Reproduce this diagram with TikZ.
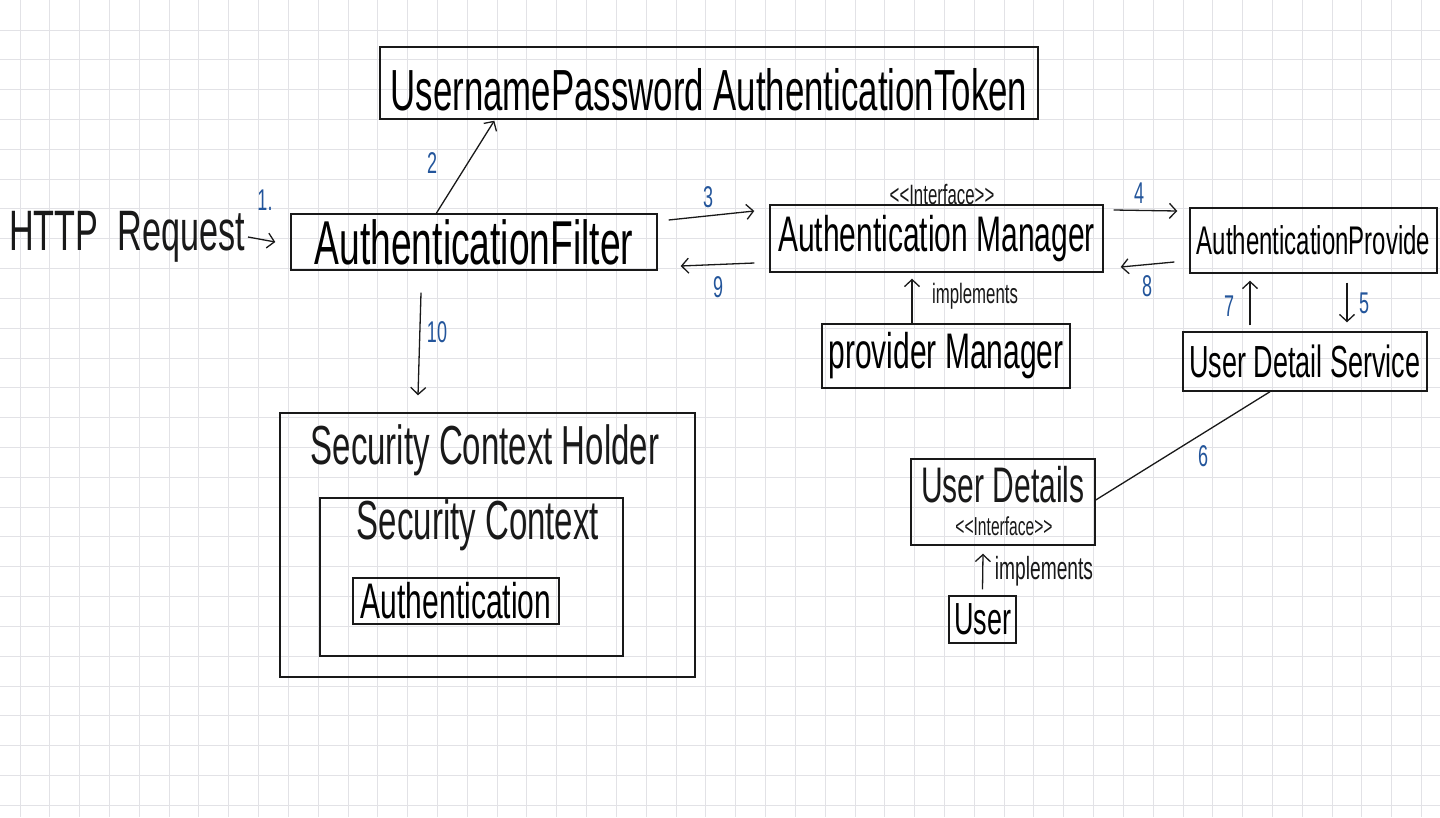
\documentclass[tikz,border=0pt]{standalone}
\usepackage{fontspec}
\setmainfont{Liberation Sans}[FakeStretch=0.6]
\usetikzlibrary{arrows.meta}
\definecolor{numblue}{RGB}{35,85,155}
\definecolor{gridgray}{RGB}{226,226,230}
\definecolor{ink}{RGB}{25,25,25}
\newcommand{\handsize}[1]{\fontsize{#1}{#1}\selectfont}

\begin{document}
\begin{tikzpicture}[x=1pt, y=-1pt,
  main/.style = {draw=ink, line width=1.4pt, inner sep=0pt},
  txt/.style = {inner sep=0pt, text=ink},
  num/.style = {inner sep=0pt, text=numblue, font=\handsize{30}},
  flow/.style = {->, draw=ink, line width=1.3pt},
  >={Straight Barb[length=7pt, width=15pt]}]
  \useasboundingbox (0,0) rectangle (1440,817);
  \fill[white] (0,0) rectangle (1440,817);
  % squared paper
  \foreach \i in {0,...,47}
    \draw[gridgray, line width=0.9pt] ({20+29.82*\i},0) -- ({20+29.82*\i},817);
  \foreach \j in {0,...,26}
    \draw[gridgray, line width=0.9pt] (0,{30+29.82*\j}) -- (1440,{30+29.82*\j});

  % boxes
  \node[main, minimum width=658pt, text height=63pt, text depth=9pt, font=\handsize{58}] (token) at (709,83) {UsernamePassword AuthenticationToken};
  \node[txt, font=\handsize{57}] (request) at (127,237) {HTTP\ \ Request};
  \node[main, minimum width=366pt, minimum height=56pt, font=\handsize{62}] (filter) at (474,242) {AuthenticationFilter};
  \node[main, minimum width=333pt, minimum height=67pt, font=\handsize{50}] (manager) at (936.5,238.5) {Authentication Manager};
  \node[main, minimum width=247pt, minimum height=65pt, font=\handsize{40}] (provider) at (1313.5,240.5) {AuthenticationProvide};
  \node[main, minimum width=248pt, minimum height=64pt, font=\handsize{50}] (pm) at (946,356) {provider Manager};
  \node[main, minimum width=244pt, minimum height=59pt, font=\handsize{45}] (uds) at (1305,361.5) {User Detail Service};
  \node[main, minimum width=415pt, minimum height=264pt] (holder) at (487.5,545) {};
  \node[txt, font=\handsize{55}] (holdername) at (485,450) {Security Context Holder};
  \node[main, minimum width=303pt, minimum height=158pt] (ctx) at (471.5,577) {};
  \node[txt, font=\handsize{55}] (ctxname) at (478,525) {Security Context};
  \node[main, minimum width=206pt, minimum height=46pt, font=\handsize{50}] (auth) at (456,601) {Authentication};
  \node[main, minimum width=184pt, minimum height=86pt] (details) at (1003,502) {};
  \node[txt, font=\handsize{50}] (detailsname) at (1003,485) {User Details};
  \node[txt, font=\handsize{26}] (detailsif) at (1004,526) {<{}<Interface>{}>};
  \node[main, minimum width=67pt, minimum height=47pt, font=\handsize{45}] (user) at (982.5,619.5) {User};
  \node[txt, font=\handsize{28}] (managerif) at (942,195) {<{}<Interface>{}>};

  % connectors
  \draw[flow] ([xshift=3pt]request.east) -- ([xshift=-15pt]filter.west);
  \draw[flow] ([xshift=146pt]filter.north west) -- ([xshift=115pt, yshift=-1pt]token.south west);
  \draw[flow] ([xshift=11pt, yshift=22pt]filter.east) -- ([xshift=-15pt, yshift=27.5pt]manager.west);
  \draw[flow] ([xshift=-15pt, yshift=-24.5pt]manager.west) -- ([xshift=23pt, yshift=-24pt]filter.east);
  \draw[flow] ([xshift=10pt, yshift=28.5pt]manager.east) -- ([xshift=-12pt, yshift=29.5pt]provider.west);
  \draw[flow] ([xshift=-15pt, yshift=-21.5pt]provider.west) -- ([xshift=17pt, yshift=-28.5pt]manager.east);
  \draw[flow] ([xshift=-34pt]pm.north) -- ([xshift=-24.5pt, yshift=-6pt]manager.south);
  \draw[flow] ([xshift=-55pt, yshift=6pt]uds.north) -- ([xshift=-63.5pt, yshift=-7pt]provider.south);
  \draw[flow] ([xshift=33.5pt, yshift=-9pt]provider.south) -- ([xshift=42pt, yshift=9pt]uds.north);
  \draw[flow] ([xshift=-53pt, yshift=-22pt]filter.south) -- ([xshift=-69.5pt, yshift=17pt]holder.north);
  \draw[draw=ink, line width=1.3pt] ([xshift=-35pt]uds.south) -- ([yshift=2pt]details.east);
  \draw[flow] ([yshift=6pt]user.north) -- ([xshift=-20pt, yshift=-8pt]details.south);

  % labels
  \node[txt, font=\handsize{28}] (impl1) at (975,296) {implements};
  \node[txt, font=\handsize{32}] (impl2) at (1044,571) {implements};
  \node[num] (n1) at (265,200) {1.};
  \node[num] (n2) at (432,163) {2};
  \node[num] (n3) at (708,197) {3};
  \node[num] (n4) at (1139,193) {4};
  \node[num] (n5) at (1364,303) {5};
  \node[num] (n6) at (1203,456) {6};
  \node[num] (n7) at (1229,306) {7};
  \node[num] (n8) at (1147,286) {8};
  \node[num] (n9) at (718,287) {9};
  \node[num] (n10) at (437,332) {10};
\end{tikzpicture}
\end{document}
